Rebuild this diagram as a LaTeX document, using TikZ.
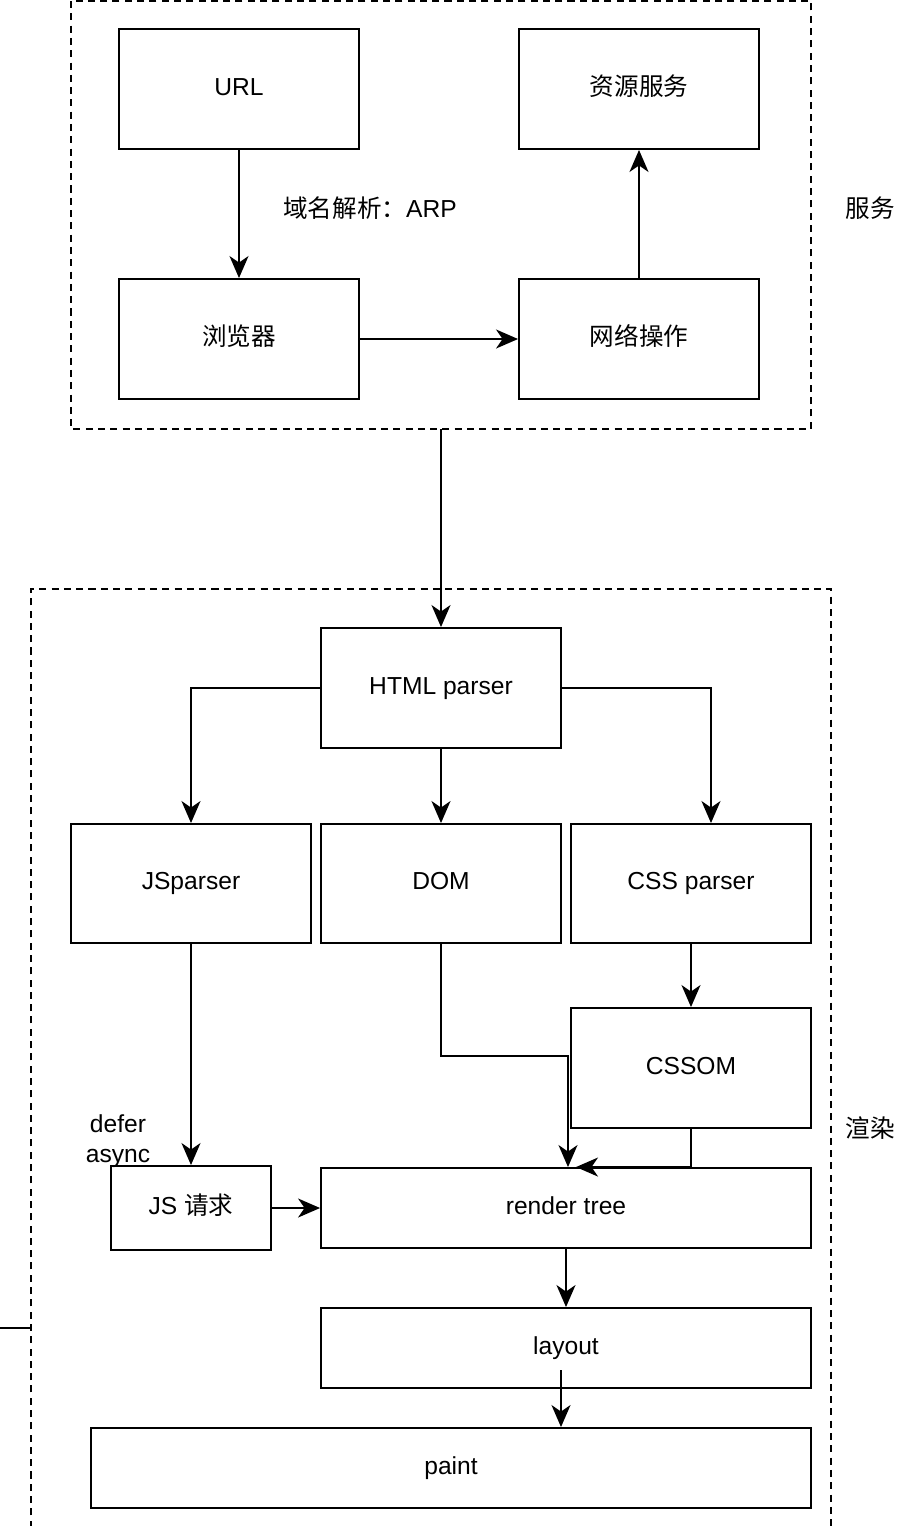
\documentclass[tikz,border=0pt]{standalone}
\usepackage{fontspec}
\setmainfont{Liberation Sans}
\newfontfamily\cjk{Noto Sans CJK SC}
\usepackage{tikz}
\usetikzlibrary{arrows.meta,calc}

\begin{document}
\begin{tikzpicture}[x=0.02cm, y=-0.02cm,
  box/.style={draw, line width=1.1pt, inner sep=0pt, minimum width=4.8cm, minimum height=2.4cm,
    font=\fontsize{14}{17}\selectfont, text height=10pt, text depth=3pt},
  lbl/.style={font=\fontsize{14}{17}\selectfont},
  frame/.style={dashed, line width=0.9pt, dash pattern=on 4pt off 3pt},
  >={Stealth[length=4.4mm, width=3.8mm, inset=1.3mm]},
  every path/.style={line width=1.1pt}]
  \useasboundingbox (0,0) rectangle (908,1526);
  % service part
  \draw[frame] (71,1) rectangle (811,429);
  \node[box] (url) at (239,89) {URL};
  \node[box] (res) at (639,89) {\cjk 资源服务};
  \node[box] (browser) at (239,339) {\cjk 浏览器};
  \node[box] (net) at (639,339) {\cjk 网络操作};
  \node[lbl] (dns) at (370,208) {{\cjk 域名解析：}ARP};
  \node[lbl] (srv) at (870,208) {\cjk 服务};
  \draw[->] (url.south) -- (browser.north);
  \draw[->] (browser.east) -- (net.west);
  \draw[->] (net.north) -- (res.north |- res.south);
  % render part
  \draw[frame] (31,1540) -- (31,589) -- (831,589) -- (831,1540);
  \node[lbl] (rnd) at (870,1128) {\cjk 渲染};
  \node[box] (html) at (441,688) {HTML parser};
  \node[box, minimum height=2.38cm] (jsp) at (191,883.5) {JSparser};
  \node[box, minimum height=2.38cm] (dom) at (441,883.5) {DOM};
  \node[box, minimum height=2.38cm] (cssp) at (691,883.5) {CSS parser};
  \node[box] (cssom) at (691,1068) {CSSOM};
  \node[box, minimum width=3.2cm, minimum height=1.68cm] (jsreq) at (191,1208) {JS {\cjk 请求}};
  \node[box, minimum width=9.8cm, minimum height=1.6cm] (render) at (566,1208) {render tree};
  \node[box, minimum width=9.8cm, minimum height=1.6cm] (layout) at (566,1348) {layout};
  \node[box, minimum width=14.4cm, minimum height=1.6cm] (paint) at (451,1468) {paint};
  \node[lbl, align=center, inner sep=0pt] (defer) at (118,1141) {defer\\async};
  \coordinate (srvout) at (441,429);
  \coordinate (lay) at (561,1370);
  \coordinate (lft) at (0,1328);
  \coordinate (lftend) at (31,1328);
  \draw[->] (srvout) -- (html.north);
  \draw[->] (html.west) -| (jsp.north);
  \draw[->] (html.south) -- (dom.north);
  \draw[->] (html.east) -| ([xshift=0.4cm]cssp.north);
  \draw[->] (cssp.south) -- (cssom.north);
  \draw[->] (jsp.south) -- (jsreq.north);
  \draw[->] (jsreq.east) -- (render.west);
  \draw[->] (dom.south) -- ++(0,112) -| ([xshift=0.04cm]render.north);
  \draw[->] (cssom.south) |- ([xshift=0.2cm]render.north);
  \draw[->] (render.south) -- (layout.north);
  \draw[->] (lay) -- (lay |- paint.north);
  \draw (lft) -- (lftend);
\end{tikzpicture}
\end{document}
